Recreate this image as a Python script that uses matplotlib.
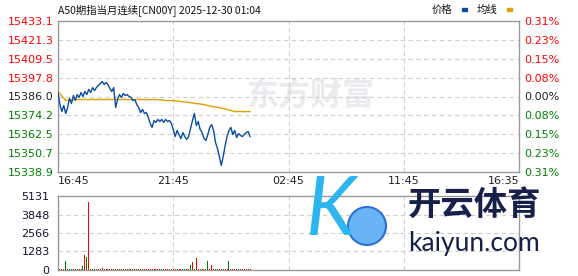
import numpy as np
import matplotlib
matplotlib.use("Agg")
import matplotlib.pyplot as plt
from matplotlib.patches import Circle, Rectangle

plt.rcParams['font.family'] = ['DejaVu Sans', 'Noto Sans CJK SC']

CJK = ['Noto Sans CJK SC', 'DejaVu Sans']

# session slots (minutes from 16:45), ticks at quarters
SESSION_LEN = 1200
time_ticks = [0, 300, 600, 900, 1200]
time_labels = ['16:45', '21:45', '02:45', '11:45', '16:35']

price_ticks = [15338.9, 15350.7, 15362.5, 15374.2, 15386.0,
               15397.8, 15409.5, 15421.3, 15433.1]
pct_labels = ['0.31%', '0.23%', '0.15%', '0.08%', '0.00%',
              '0.08%', '0.15%', '0.23%', '0.31%']
vol_ticks = [0, 1283, 2566, 3848, 5131]

# price every 5 minutes from 16:45 until 01:05
price = [15388.5, 15381.0, 15376.6, 15380.4, 15375.4, 15379.1, 15384.8, 15381.6, 15386.6, 15383.5,
         15387.2, 15385.4, 15388.5, 15386.0, 15389.1, 15387.2, 15390.4, 15388.5, 15391.6, 15389.7,
         15391.6, 15392.9, 15394.1, 15395.4, 15393.5, 15394.7, 15393.5, 15391.0, 15389.1, 15391.6,
         15379.1, 15384.1, 15387.2, 15385.4, 15387.9, 15386.6, 15387.2, 15386.0, 15385.4, 15383.5,
         15384.1, 15381.0, 15379.1, 15376.0, 15377.9, 15375.4, 15376.0, 15372.9, 15369.2, 15366.7,
         15371.0, 15369.8, 15371.7, 15370.4, 15371.7, 15369.8, 15371.7, 15370.4, 15371.0, 15369.2,
         15365.4, 15361.0, 15364.8, 15362.3, 15359.8, 15363.5, 15361.0, 15359.2, 15361.0, 15366.0,
         15371.0, 15375.4, 15367.9, 15370.4, 15365.4, 15363.5, 15359.8, 15358.6, 15362.3, 15366.7,
         15368.5, 15364.8, 15357.3, 15353.6, 15348.6, 15343.0, 15348.6, 15355.4, 15361.0, 15364.8,
         15366.7, 15362.3, 15364.8, 15360.4, 15362.9, 15361.7, 15361.0, 15362.3, 15363.5, 15364.1,
         15361.0]

# average line every 20 minutes
avg_line = [15389.1, 15383.5, 15384.1, 15384.1, 15384.1, 15384.1, 15384.1, 15384.1, 15384.1,
            15384.1, 15384.1, 15384.1, 15384.1, 15384.1, 15383.5, 15383.5, 15382.9, 15382.3,
            15381.6, 15381.0, 15379.8, 15379.1, 15377.9, 15376.6, 15376.6, 15376.6]

# volume every 5 minutes, R = up (red), G = down (green)
volume = [60, 50, 70, 55, 625, 60, 45, 70, 50, 65,
          55, 60, 70, 280, 1040, 900, 4715, 80, 60, 55,
          70, 65, 50, 140, 60, 55, 45, 60, 70, 50,
          65, 55, 60, 50, 45, 60, 70, 55, 50, 60,
          45, 55, 60, 65, 50, 45, 60, 55, 70, 50,
          60, 55, 45, 50, 60, 65, 55, 50, 60, 45,
          55, 60, 50, 65, 70, 55, 60, 50, 45, 350,
          550, 60, 830, 55, 50, 60, 45, 65, 620, 60,
          350, 55, 60, 50, 45, 60, 55, 70, 50, 620,
          60, 55, 45, 60, 50, 65, 55, 60, 50, 45, 60]
vol_dir = ("RGRRGRGGRR" "GRRGRGRRGG" "RRGRRGGRRR" "GGRRRGRRGR" "RRGGRRRGRR"
           "GRRRGGRRRG" "RRGRRGGRRG" "RGRRGRRGGR" "RRGRRRGRRG" "RRGRGRRGRRR")

RED = '#ff0000'
GREEN = '#008000'
BLUE = '#0a4ea2'
GOLD = '#e0a000'
GRID = '#cfcfcf'
SPINE = '#999999'

fig = plt.figure(figsize=(5.78, 2.76), dpi=100)
W, H = 578.0, 276.0
ax = fig.add_axes([58 / W, 1 - 172 / H, (519 - 58) / W, (172 - 21) / H])
axv = fig.add_axes([58 / W, 1 - 270 / H, (519 - 58) / W, (270 - 196) / H])

t_price = np.arange(len(price)) * 5
t_avg = np.arange(len(avg_line)) * 20

# ---- main price panel ----
ax.text(0.547, 0.50, '东方财富', transform=ax.transAxes, family=CJK,
        fontsize=23, fontweight='bold', color='#ebebef', ha='center', va='center', zorder=0)
ax.plot(t_avg, avg_line, color=GOLD, lw=1.0, zorder=3)
ax.plot(t_price, price, color=BLUE, lw=1.0, zorder=4)

ax.set_xlim(0, SESSION_LEN)
ax.set_ylim(price_ticks[0], price_ticks[-1])
ax.set_yticks(price_ticks)
ax.set_yticklabels([f'{v:.1f}' for v in price_ticks])
ax.set_xticks(time_ticks)
ax.set_xticklabels(time_labels)
ax.tick_params(axis='both', length=0, labelsize=8)
ax.tick_params(axis='y', pad=3)
ax.tick_params(axis='x', pad=3, colors='#222222')
mid = len(price_ticks) // 2
for i, lab in enumerate(ax.get_yticklabels()):
    lab.set_color(GREEN if i < mid else ('#222222' if i == mid else RED))
xl = ax.get_xticklabels()
xl[0].set_ha('left')
xl[-1].set_ha('right')
for y in price_ticks[1:-1]:
    ax.axhline(y, color=GRID, lw=0.8, ls=(0, (4, 3)), zorder=1)
for x in time_ticks[1:-1]:
    ax.axvline(x, color=GRID, lw=0.8, ls=(0, (4, 3)), zorder=1)
for s in ax.spines.values():
    s.set_color(SPINE)
    s.set_linewidth(1)

ax2 = ax.twinx()
ax2.set_ylim(price_ticks[0], price_ticks[-1])
ax2.set_yticks(price_ticks)
ax2.set_yticklabels(pct_labels)
ax2.tick_params(axis='y', length=0, labelsize=8, pad=4)
for i, lab in enumerate(ax2.get_yticklabels()):
    lab.set_color(GREEN if i < mid else ('#222222' if i == mid else RED))
for s in ax2.spines.values():
    s.set_visible(False)

# ---- volume panel ----
t_vol = np.arange(len(volume)) * 5
vol_colors = [RED if d == 'R' else GREEN for d in vol_dir]
axv.bar(t_vol, volume, width=2.6, color=vol_colors, zorder=3)
axv.set_xlim(0, SESSION_LEN)
axv.set_ylim(0, vol_ticks[-1])
axv.set_yticks(vol_ticks)
axv.set_yticklabels([str(v) for v in vol_ticks])
axv.set_xticks([])
axv.tick_params(axis='y', length=0, labelsize=8, pad=6, colors='#141432')
for y in vol_ticks[1:-1]:
    axv.axhline(y, color=GRID, lw=0.8, ls=(0, (4, 3)), zorder=1)
for x in time_ticks[1:-1]:
    axv.axvline(x, color=GRID, lw=0.8, ls=(0, (4, 3)), zorder=1)
for s in axv.spines.values():
    s.set_color(SPINE)
    s.set_linewidth(1)

# ---- title, legend, watermark overlay (pixel coords) ----
ov = fig.add_axes([0, 0, 1, 1], zorder=10)
ov.set_xlim(0, W)
ov.set_ylim(H, 0)
ov.axis('off')
ov.patch.set_alpha(0)

ov.text(58, 10, 'A50期指当月连续[CN00Y] 2025-12-30 01:04', family=CJK,
        fontsize=7.5, color='#111111', va='center', ha='left')
ov.text(432, 10, '价格', family=CJK, fontsize=7.5, color='#111111', va='center', ha='left')
ov.add_patch(Rectangle((462, 8), 5, 3, color=BLUE))
ov.text(477, 10, '均线', family=CJK, fontsize=7.5, color='#111111', va='center', ha='left')
ov.add_patch(Rectangle((507, 8), 5, 3, color=GOLD))

ov.text(330, 212, 'K', family=['Lato', 'DejaVu Sans'], fontsize=58,
        style='italic', color='#2cb5ee', ha='center', va='center')
ov.add_patch(Circle((367, 226), 19, fc='#6ab4f4', ec='#2d6fd8', lw=1.5))
ov.text(408, 205, '开云体育', family=CJK, fontsize=24, fontweight='bold',
        color='#17204a', ha='left', va='center')
ov.text(408, 244, 'kaiyun.com', family=['Lato', 'DejaVu Sans'], fontsize=19,
        color='#17204a', ha='left', va='center')

fig.savefig('out.png', dpi=100)
